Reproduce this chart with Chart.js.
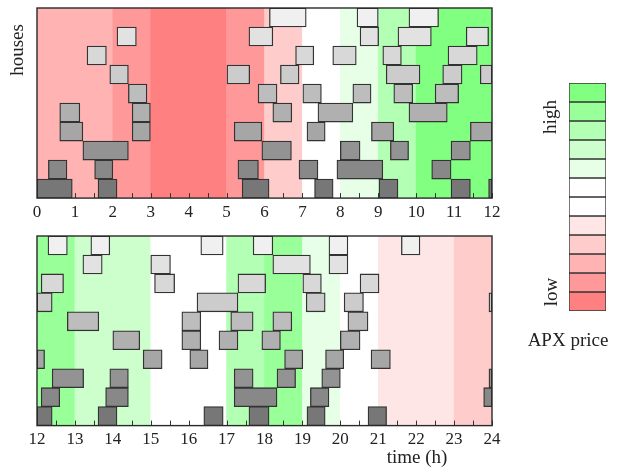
<!DOCTYPE html>
<html>
<head>
<meta charset="utf-8">
<script src="https://cdn.jsdelivr.net/npm/chart.js@4"></script>
<style>
html, body { margin: 0; padding: 0; background: #fff; }
#wrap { position: relative; width: 624px; height: 469px; overflow: hidden; }
canvas { position: absolute; }
</style>
</head>
<body>
<div id="wrap">
<canvas id="morning" width="520" height="230" style="left:0;top:0"></canvas>
<canvas id="afternoon" width="520" height="241" style="left:0;top:228px"></canvas>
<canvas id="legend" width="104" height="469" style="left:520px;top:0"></canvas>
</div>
<script>
const FONT = '"Liberation Serif", "Times New Roman", serif';

// APX price levels, low -> high
const priceColors = ['#ff8080', '#ff9999', '#ffb3b3', '#ffcccc', '#ffe6e6', '#ffffff',
                     '#ffffff', '#e6ffe6', '#ccffcc', '#b3ffb3', '#99ff99', '#80ff80'];

// price level of each hour
const morningHours = [0, 1, 2, 3, 4, 5, 6, 7, 8, 9, 10, 11];
const morningLevels = [2, 2, 1, 0, 0, 1, 3, 5, 7, 9, 11, 11];
const afternoonHours = [12, 13, 14, 15, 16, 17, 18, 19, 20, 21, 22, 23];
const afternoonLevels = [10, 8, 8, 5, 5, 9, 10, 7, 5, 4, 4, 3];

// houses, top row first
const rowLabels = ['h1', 'h2', 'h3', 'h4', 'h5', 'h6', 'h7', 'h8', 'h9', 'h10'];
const rowGrays = ['#f0f0f0', '#e2e2e2', '#d8d8d8', '#cccccc', '#bdbdbd',
                  '#b0b0b0', '#a6a6a6', '#939393', '#888888', '#777777'];

// [start, end] of each run in hours, one list per house
const morningRuns = [
    [[6.13, 7.1], [8.44, 9.0], [9.81, 10.59]],
    [[2.11, 2.62], [5.59, 6.22], [8.52, 9.01], [9.52, 10.4], [11.32, 11.91]],
    [[1.32, 1.83], [6.82, 7.3], [7.8, 8.42], [9.12, 9.61], [10.84, 11.61]],
    [[1.92, 2.41], [5.01, 5.61], [6.42, 6.91], [9.21, 10.1], [10.7, 11.21], [11.69, 12]],
    [[2.41, 2.9], [5.83, 6.33], [7.01, 7.5], [8.33, 8.81], [9.41, 9.91], [10.5, 11.12]],
    [[0.6, 1.13], [2.51, 2.99], [6.22, 6.72], [7.41, 8.33], [9.81, 10.82]],
    [[0.6, 1.21], [2.51, 2.99], [5.2, 5.93], [7.12, 7.6], [8.82, 9.41], [11.43, 12]],
    [[1.21, 2.41], [5.93, 6.71], [8.0, 8.52], [9.32, 9.8], [10.92, 11.43]],
    [[0.3, 0.79], [1.52, 2.0], [5.3, 5.84], [6.91, 7.41], [7.91, 9.12], [10.41, 10.92]],
    [[0, 0.93], [1.61, 2.11], [5.41, 6.12], [7.32, 7.81], [9.02, 9.52], [10.92, 11.43], [11.91, 12]]
];

const afternoonRuns = [
    [[12.29, 12.8], [13.42, 13.92], [16.32, 16.91], [17.7, 18.22], [19.7, 20.2], [21.61, 22.1]],
    [[13.21, 13.72], [15.0, 15.52], [18.22, 19.21], [19.7, 20.2]],
    [[12.11, 12.7], [15.1, 15.63], [17.3, 18.03], [19.01, 19.5], [20.52, 21.02]],
    [[12.0, 12.4], [16.22, 17.3], [19.1, 19.6], [20.1, 20.61], [23.92, 24]],
    [[12.8, 13.63], [15.82, 16.32], [17.11, 17.7], [18.22, 18.72], [20.2, 20.73]],
    [[14.0, 14.71], [15.82, 16.32], [16.8, 17.3], [17.93, 18.42], [20.0, 20.52]],
    [[12.0, 12.2], [14.8, 15.3], [16.03, 16.51], [18.53, 19.01], [19.61, 20.09], [20.81, 21.32]],
    [[12.4, 13.23], [13.92, 14.41], [17.2, 17.7], [18.33, 18.82], [19.51, 20.0], [23.92, 24]],
    [[12.11, 12.6], [13.81, 14.41], [17.2, 18.33], [19.21, 19.7], [23.78, 24]],
    [[12.0, 12.4], [13.61, 14.11], [16.4, 16.91], [17.59, 18.12], [19.12, 19.6], [20.73, 21.22]]
];

// frame, inward tick marks and free labels
const extras = {
    id: 'extras',
    afterDatasetDraw(chart, args, opts) {
        if (!opts.ticks || args.index !== 1) return;
        const { ctx, chartArea: area, scales } = chart;
        ctx.save();
        ctx.strokeStyle = '#333';
        ctx.lineWidth = 1;
        scales.x.ticks.forEach(tick => {
            const px = Math.round(scales.x.getPixelForValue(tick.value)) + 0.5;
            ctx.beginPath();
            ctx.moveTo(px, area.bottom);
            ctx.lineTo(px, area.bottom - 5);
            ctx.stroke();
        });
        ctx.restore();
    },
    afterDraw(chart, args, opts) {
        const { ctx, chartArea: area } = chart;
        ctx.save();
        if (opts.frame) {
            ctx.strokeStyle = '#2a2a2a';
            ctx.lineWidth = 1.4;
            ctx.strokeRect(area.left, area.top, area.right - area.left, area.bottom - area.top);
        }
        ctx.fillStyle = '#222';
        ctx.textAlign = 'center';
        ctx.textBaseline = 'middle';
        (opts.texts || []).forEach(t => {
            ctx.font = `${t.size}px ${FONT}`;
            ctx.save();
            ctx.translate(t.x, t.y);
            if (t.rotate) ctx.rotate(-Math.PI / 2);
            ctx.fillText(t.text, 0, 0);
            ctx.restore();
        });
        ctx.restore();
    }
};

function drawPanel(canvasId, hours, levels, runs, xMin, xMax, padding, texts) {
    const boxes = [];
    const boxColors = [];
    runs.forEach((row, r) => {
        row.forEach(([start, end]) => {
            boxes.push({ y: rowLabels[r], x: [start, end] });
            boxColors.push(rowGrays[r]);
        });
    });

    const bands = hours.map(h => ({ y: 'all', x: [h, h + 1] }));

    new Chart(document.getElementById(canvasId), {
        type: 'bar',
        data: {
            labels: rowLabels,
            datasets: [
                {
                    data: boxes,
                    yAxisID: 'y',
                    backgroundColor: boxColors,
                    borderColor: '#333',
                    borderWidth: 1.3,
                    borderSkipped: false,
                    barPercentage: 1,
                    categoryPercentage: 1,
                    grouped: false,
                    order: 0
                },
                {
                    data: bands,
                    yAxisID: 'yb',
                    backgroundColor: levels.map(l => priceColors[l]),
                    borderWidth: 0,
                    barPercentage: 1,
                    categoryPercentage: 1,
                    grouped: false,
                    order: 1
                }
            ]
        },
        options: {
            indexAxis: 'y',
            responsive: false,
            animation: false,
            events: [],
            layout: { padding: padding },
            plugins: {
                legend: { display: false },
                tooltip: { enabled: false },
                extras: { frame: true, ticks: true, texts: texts }
            },
            scales: {
                x: {
                    type: 'linear',
                    min: xMin,
                    max: xMax,
                    grid: { display: false, drawTicks: false },
                    border: { display: false },
                    ticks: {
                        stepSize: 0.5,
                        autoSkip: false,
                        maxRotation: 0,
                        padding: 4,
                        color: '#222',
                        font: { family: FONT, size: 17 },
                        callback: (value) => Number.isInteger(value) ? value : ''
                    }
                },
                y: { type: 'category', offset: true, display: false },
                yb: { type: 'category', labels: ['all'], offset: true, display: false }
            }
        },
        plugins: [extras]
    });
}

drawPanel('morning', morningHours, morningLevels, morningRuns, 0, 12,
    { left: 37, right: 28, top: 8, bottom: 3.5 },
    [{ text: 'houses', x: 18, y: 50, size: 19, rotate: true }]);

drawPanel('afternoon', afternoonHours, afternoonLevels, afternoonRuns, 12, 24,
    { left: 37, right: 28, top: 8, bottom: 15 },
    [{ text: 'time (h)', x: 417, y: 230, size: 19 }]);

// colour scale
new Chart(document.getElementById('legend'), {
    type: 'bar',
    data: {
        labels: ['APX'],
        datasets: [{
            data: priceColors.map((c, i) => ({ x: 'APX', y: [i, i + 1] })),
            backgroundColor: priceColors,
            borderColor: '#333',
            borderWidth: 1,
            borderSkipped: false,
            barPercentage: 1,
            categoryPercentage: 1,
            grouped: false
        }]
    },
    options: {
        responsive: false,
        animation: false,
        events: [],
        layout: { padding: { left: 49, right: 18, top: 83, bottom: 158 } },
        plugins: {
            legend: { display: false },
            tooltip: { enabled: false },
            extras: {
                texts: [
                    { text: 'high', x: 31, y: 117, size: 19, rotate: true },
                    { text: 'low', x: 32, y: 292, size: 19, rotate: true },
                    { text: 'APX price', x: 48, y: 341, size: 19 }
                ]
            }
        },
        scales: {
            x: { display: false, offset: true },
            y: { display: false, min: 0, max: 12 }
        }
    },
    plugins: [extras]
});
</script>
</body>
</html>
